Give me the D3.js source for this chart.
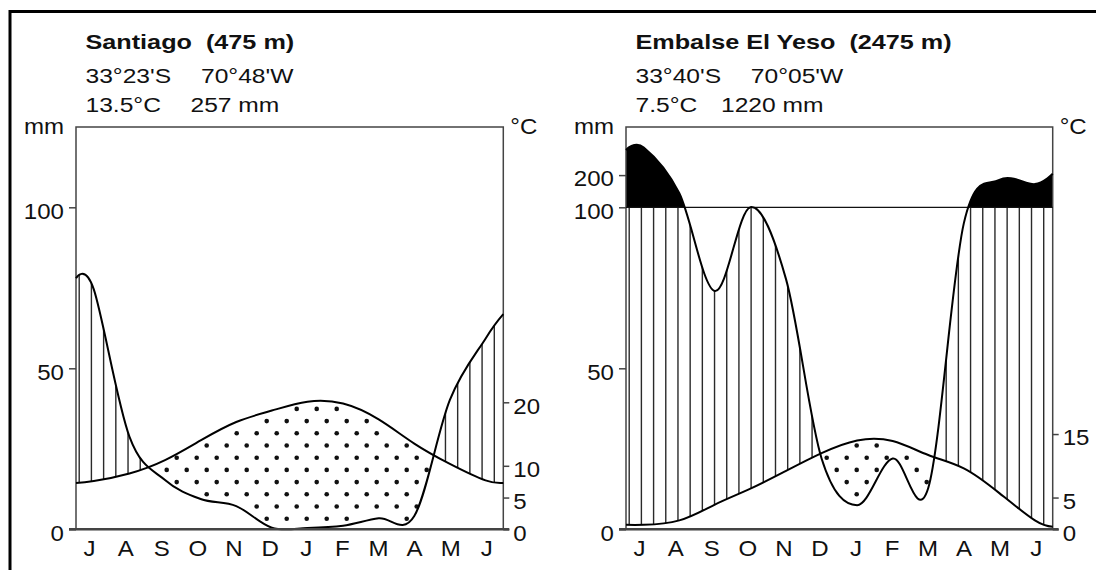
<!DOCTYPE html>
<html><head><meta charset="utf-8">
<script src="https://cdn.jsdelivr.net/npm/d3@7"></script>
<style>
body{margin:0;background:#fff}
svg{display:block}
text{font-family:"Liberation Sans",Arial,sans-serif;fill:#111}
</style>
</head><body>
<svg id="chart" width="1096" height="570"></svg>
<script>
// ---------------- data ----------------
const months = ["J","A","S","O","N","D","J","F","M","A","M","J"];

// Santiago
const santiagoTitle = "Santiago  (475 m)";
const santiagoCoords = ["33°23'S", "70°48'W"];
const santiagoMeans = ["13.5°C", "257 mm"];
const santiagoPrecip = [74.5, 28.8, 15.3, 9.4, 7.2, 0.5, 0.4, 1.1, 3.4, 4.1, 40.2, 59.2];
const santiagoPrecipEdges = [78, 66.8];
const santiagoTemp = [7.6, 8.8, 10.9, 14.0, 16.9, 18.7, 20.1, 19.8, 17.3, 13.5, 10.3, 7.7];
const santiagoTempEdges = [7.3, 7.3];
const santiagoMmTicks = [0, 50, 100];
const santiagoTempTicks = [0, 5, 10, 20];

// Embalse El Yeso
const yesoTitle = "Embalse El Yeso  (2475 m)";
const yesoCoords = ["33°40'S", "70°05'W"];
const yesoMeans = ["7.5°C", "1220 mm"];
const yesoPrecip = [286, 143.5, 74, 100.5, 77.7, 22, 7.5, 22, 12.8, 95, 185, 172];
const yesoPrecipEdges = [278, 204];
const yesoTemp = [0.7, 1.4, 3.9, 6.4, 9.2, 12.0, 14.0, 13.9, 11.7, 9.6, 5.7, 1.4];
const yesoTempEdges = [0.7, 0.4];
const yesoMmTicks = [0, 50, 100, 200];
const yesoTempTicks = [0, 5, 15];

// ---------------- layout ----------------
const svg = d3.select("#chart");
const yTop = 127, yZero = 529.3, y100 = 207.3;
const FS = 21.5, SX = 1.12;       // axis / label text
const HFS = 20.5, HSX = 1.2;      // header text

// outer frame
svg.append("path").attr("d","M10,572 V11.5 H1100").attr("fill","none")
  .attr("stroke","#000").attr("stroke-width",3);

const disp = v => v <= 100 ? v : 100 + (v - 100) / 10;

function label(parent, x, y, s, fs, sx, anchor, bold) {
  return parent.append("text")
    .attr("transform", `translate(${x},${y}) scale(${sx},1)`)
    .attr("font-size", fs).attr("text-anchor", anchor || "start")
    .attr("font-weight", bold ? "bold" : null)
    .style("white-space", "pre").text(s);
}

// sample a rendered path into y-by-x lookup
function sampler(node) {
  const L = node.getTotalLength();
  const pts = [];
  for (let l = 0; l <= L; l += 0.5) { const p = node.getPointAtLength(l); pts.push([p.x, p.y]); }
  pts.sort((a, b) => a[0] - b[0]);
  const bis = d3.bisector(d => d[0]).left;
  return x => {
    const i = bis(pts, x);
    if (i <= 0) return pts[0][1];
    if (i >= pts.length) return pts[pts.length - 1][1];
    const a = pts[i - 1], b = pts[i];
    const t = b[0] === a[0] ? 0 : (x - a[0]) / (b[0] - a[0]);
    return a[1] + t * (b[1] - a[1]);
  };
}

function panel(id, x0, x1, cfg) {
  const g = svg.append("g");
  const x = d3.scaleLinear().domain([0, 12]).range([x0, x1]);
  const yP = d3.scaleLinear().domain([0, 100]).range([yZero, y100]);
  const yT = d3.scaleLinear().domain([0, 20]).range([yZero, yZero - 127]);
  const xm = d3.scalePoint().domain(d3.range(12)).range([x0 + 13.6, x1 - 16.5]);

  const pPts = [[0, cfg.pEdges[0]], ...cfg.precip.map((v, i) => [i + 0.5, v]), [12, cfg.pEdges[1]]];
  const tPts = [[0, cfg.tEdges[0]], ...cfg.temp.map((v, i) => [i + 0.5, v]), [12, cfg.tEdges[1]]];
  const curP = d3.curveCardinal.tension(0);
  const curT = d3.curveNatural;
  const fP = d => yP(disp(d[1])), fT = d => yT(d[1]);
  const X = d => x(d[0]);

  const defs = g.append("defs");
  const mkClip = (name, dAttr) => {
    defs.append("clipPath").attr("id", id + name).append("path").attr("d", dAttr);
    return `url(#${id + name})`;
  };
  const belowP = mkClip("bp", d3.area().x(X).y0(yZero + 20).y1(fP).curve(curP)(pPts));
  const aboveT = mkClip("at", d3.area().x(X).y0(yTop - 60).y1(fT).curve(curT)(tPts));
  const below100 = mkClip("b1", `M${x0},${y100}H${x1}V${yZero}H${x0}Z`);
  const above100 = mkClip("a1", `M${x0},${yTop}H${x1}V${y100}H${x0}Z`);

  // humid hatching
  const hat = g.append("g").attr("clip-path", belowP).append("g").attr("clip-path", aboveT)
    .append("g").attr("clip-path", below100);
  const nLines = 35, step = (x1 - x0) / nLines;
  hat.selectAll("line").data(d3.range(nLines)).join("line")
    .attr("x1", k => x0 + 3.2 + k * step).attr("x2", k => x0 + 3.2 + k * step)
    .attr("y1", yTop).attr("y2", yZero)
    .attr("stroke", "#2a2a2a").attr("stroke-width", 1.4);

  // placeholder for arid dots
  const dotG = g.append("g");

  // black (>100 mm)
  g.append("g").attr("clip-path", belowP).append("g").attr("clip-path", above100)
    .append("rect").attr("x", x0).attr("y", yTop).attr("width", x1 - x0).attr("height", y100 - yTop)
    .attr("fill", "#000");

  // frame box
  g.append("rect").attr("x", x0).attr("y", yTop).attr("width", x1 - x0).attr("height", yZero - yTop)
    .attr("fill", "none").attr("stroke", "#444").attr("stroke-width", 1.5);
  if (cfg.line100) g.append("line").attr("x1", x0).attr("x2", x1).attr("y1", y100).attr("y2", y100)
    .attr("stroke", "#111").attr("stroke-width", 1.3);

  // curves
  const pPath = g.append("path").attr("d", d3.line().x(X).y(fP).curve(curP)(pPts))
    .attr("fill", "none").attr("stroke", "#000").attr("stroke-width", 2);
  const tPath = g.append("path").attr("d", d3.line().x(X).y(fT).curve(curT)(tPts))
    .attr("fill", "none").attr("stroke", "#000").attr("stroke-width", 2);

  // arid dots: only where temperature curve lies above precipitation curve
  const pAt = sampler(pPath.node()), tAt = sampler(tPath.node());
  const dots = [];
  for (let r = 0; r < 34; r++) {
    const yy = yZero + 1.6 - 12.2 * r;
    for (let c = -1; c < 23; c++) {
      const xx = x0 + 0.7 + 20 * c + (r % 2 ? 10 : 0);
      if (xx < x0 + 3 || xx > x1 - 3) continue;
      const yt = tAt(xx), yp = pAt(xx);
      if (yy > yt + 3.5 && yy < yp - 3.5 && yy < yZero - 3) dots.push([xx, yy]);
    }
  }
  dotG.selectAll("circle").data(dots).join("circle")
    .attr("cx", d => d[0]).attr("cy", d => d[1]).attr("r", 2.3).attr("fill", "#111");

  // axes
  const la = g.append("g").attr("transform", `translate(${x0},0)`)
    .call(d3.axisLeft(yP).tickValues(cfg.mmTicks.map(disp)).tickFormat((d, i) => cfg.mmTicks[i])
      .tickSize(7).tickPadding(5));
  const ra = g.append("g").attr("transform", `translate(${x1},0)`)
    .call(d3.axisRight(yT).tickValues(cfg.tTicks).tickSize(6).tickPadding(4));
  [[la, -12], [ra, 10]].forEach(([a, off]) => {
    a.select(".domain").remove();
    a.selectAll("line").attr("stroke", "#444").attr("stroke-width", 1.5);
    a.selectAll("text").attr("x", 0).attr("dy", "0.5em")
      .attr("transform", `translate(${off},0) scale(${SX},1)`)
      .attr("font-size", FS).attr("font-family", '"Liberation Sans",Arial,sans-serif')
      .attr("fill", "#111");
  });
  // zero line
  g.append("line").attr("x1", x0 - 7).attr("x2", x1 + 6).attr("y1", yZero).attr("y2", yZero)
    .attr("stroke", "#444").attr("stroke-width", 2.5);

  // month labels
  months.forEach((m, i) => label(g, xm(i), 556, m, FS, SX, "middle"));

  // header text
  const tx = cfg.textX;
  label(g, tx, 49, cfg.title, HFS, 1.23, "start", true);
  label(g, tx, 83, cfg.coords[0], HFS, HSX);
  label(g, tx + cfg.col2, 83, cfg.coords[1], HFS, HSX);
  label(g, tx, 111.5, cfg.means[0], HFS, HSX);
  label(g, tx + cfg.col3, 111.5, cfg.means[1], HFS, HSX);
  label(g, x0 - 12, 134, "mm", FS, SX, "end");
  label(g, x1 + 7, 134, "°C", FS, SX, "start");
}

panel("L", 76, 503.3, {
  precip: santiagoPrecip, pEdges: santiagoPrecipEdges, temp: santiagoTemp, tEdges: santiagoTempEdges,
  mmTicks: santiagoMmTicks, tTicks: santiagoTempTicks, line100: false,
  title: santiagoTitle, coords: santiagoCoords, means: santiagoMeans, textX: 85.5, col2: 115.5, col3: 105
});
panel("R", 626, 1052.7, {
  precip: yesoPrecip, pEdges: yesoPrecipEdges, temp: yesoTemp, tEdges: yesoTempEdges,
  mmTicks: yesoMmTicks, tTicks: yesoTempTicks, line100: true,
  title: yesoTitle, coords: yesoCoords, means: yesoMeans, textX: 635.5, col2: 115.3, col3: 85.5
});
</script>
</body></html>
